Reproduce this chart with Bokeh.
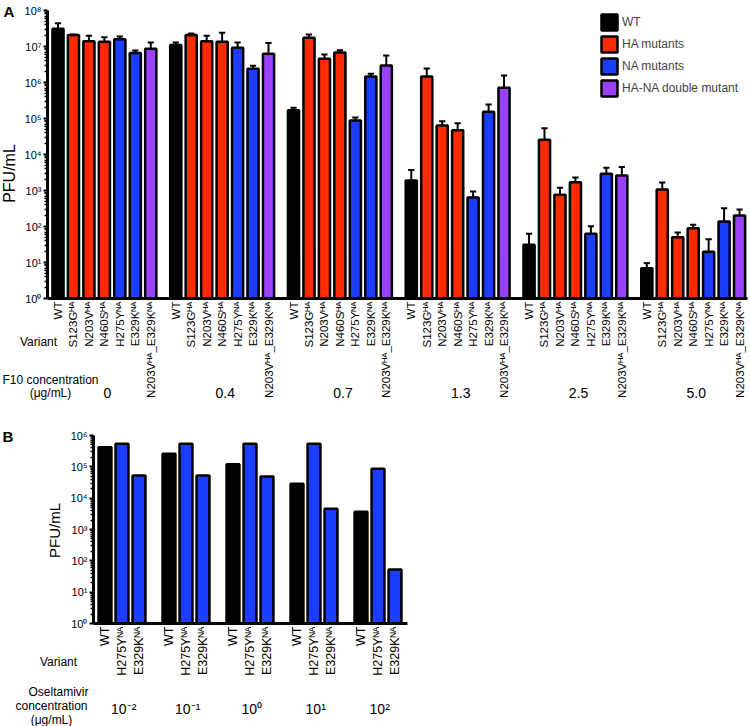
import math
from bokeh.plotting import figure
from bokeh.models import Range1d, FixedTicker, Label, Legend, LegendItem, ColumnDataSource
from bokeh.layouts import column
from bokeh.embed import file_html
from bokeh.resources import INLINE

FONT = "Liberation Sans"

# ---------------- Panel A data ----------------
f10_conc = ["0", "0.4", "0.7", "1.3", "2.5", "5.0"]
variants_a = ["WT", "S123Gᴴᴬ", "N203Vᴴᴬ", "N460Sᴴᴬ", "H275Yᴺᴬ", "E329Kᴺᴬ", "N203Vᴴᴬ_E329Kᴺᴬ"]
variant_type_a = ["WT", "HA", "HA", "HA", "NA", "NA", "HANA"]

# mean PFU/mL per F10 concentration (order of variants_a)
pfu_f10_0 = [3.1e7, 2.1e7, 1.4e7, 1.35e7, 1.6e7, 6.6e6, 8.7e6]
pfu_f10_04 = [1.1e7, 2.1e7, 1.4e7, 1.35e7, 9.3e6, 2.4e6, 6.3e6]
pfu_f10_07 = [1.7e5, 1.74e7, 4.55e6, 6.8e6, 8.8e4, 1.47e6, 2.95e6]
pfu_f10_13 = [1.9e3, 1.47e6, 6.4e4, 4.7e4, 640, 1.55e5, 7.1e5]
pfu_f10_25 = [31, 2.56e4, 760, 1.7e3, 63, 2.9e3, 2.6e3]
pfu_f10_50 = [6.9, 1.07e3, 50, 89, 20, 138, 203]

# upper end of error bars
top_f10_0 = [4.4e7, 2.15e7, 2.0e7, 1.8e7, 1.9e7, 7.7e6, 1.3e7]
top_f10_04 = [1.3e7, 2.3e7, 2.0e7, 2.4e7, 1.3e7, 2.9e6, 1.26e7]
top_f10_07 = [2.0e5, 2.15e7, 6.0e6, 7.9e6, 1.07e5, 1.74e6, 5.6e6]
top_f10_13 = [3.7e3, 2.45e6, 8.4e4, 7.4e4, 940, 2.45e5, 1.56e6]
top_f10_25 = [63, 5.4e4, 1.2e3, 2.3e3, 102, 4.3e3, 4.5e3]
top_f10_50 = [9.6, 1.66e3, 68, 111, 44, 322, 295]

pfu_a = [pfu_f10_0, pfu_f10_04, pfu_f10_07, pfu_f10_13, pfu_f10_25, pfu_f10_50]
top_a = [top_f10_0, top_f10_04, top_f10_07, top_f10_13, top_f10_25, top_f10_50]

# ---------------- Panel B data ----------------
osel_conc = ["10⁻²", "10⁻¹", "10⁰", "10¹", "10²"]
variants_b = ["WT", "H275Yᴺᴬ", "E329Kᴺᴬ"]
variant_type_b = ["WT", "NA", "NA"]
pfu_wt_b = [4.2e5, 2.6e5, 1.2e5, 2.9e4, 3.7e3]
pfu_h275y_b = [5.5e5, 5.5e5, 5.5e5, 5.5e5, 8.7e4]
pfu_e329k_b = [5.3e4, 5.3e4, 4.9e4, 4.6e3, 53]
pfu_b = [pfu_wt_b, pfu_h275y_b, pfu_e329k_b]

legend_names = {"WT": "WT", "HA": "HA mutants", "NA": "NA mutants", "HANA": "HA-NA double mutant"}
colors = {"WT": "#000000", "HA": "#FF2A00", "NA": "#1A3DFF", "HANA": "#9A40FF"}

sup = {"0": "⁰", "1": "¹", "2": "²", "3": "³", "4": "⁴", "5": "⁵", "6": "⁶", "7": "⁷", "8": "⁸", "9": "⁹"}


def make_fig(w, h, xr, yr):
    p = figure(width=w, height=h, y_axis_type="log", x_range=Range1d(*xr), y_range=Range1d(*yr),
               output_backend="svg", toolbar_location=None, frame_align=False, min_border=0)
    p.title.visible = False
    p.xgrid.visible = False
    p.ygrid.visible = False
    p.outline_line_color = None
    p.background_fill_color = "white"
    return p


def style_axes(p, max_dec, x_axis_at, x_bounds, tick_font):
    majors = [10 ** k for k in range(0, max_dec + 1)]
    minors = [m * 10 ** k for k in range(0, max_dec) for m in range(2, 10)]
    p.yaxis.ticker = FixedTicker(ticks=majors, minor_ticks=minors)
    p.yaxis.major_label_overrides = {10 ** k: "10" + sup[str(k)] for k in range(0, max_dec + 1)}
    p.yaxis.fixed_location = x_axis_at
    p.yaxis.bounds = (1, 10 ** max_dec)
    p.xaxis.fixed_location = 1
    p.xaxis.bounds = x_bounds
    for ax in (p.xaxis[0], p.yaxis[0]):
        ax.axis_line_width = 3
        ax.axis_line_color = "black"
        ax.major_label_text_font = FONT
        ax.major_label_text_color = "black"
    p.yaxis.major_tick_line_width = 2
    p.yaxis.major_tick_out = 4
    p.yaxis.major_tick_in = 0
    p.yaxis.minor_tick_line_width = 1.5
    p.yaxis.minor_tick_out = 3
    p.yaxis.minor_tick_in = 0
    p.yaxis.major_label_standoff = 2
    p.yaxis.major_label_text_font_size = "11px"
    p.xaxis.major_tick_line_color = None
    p.xaxis.minor_tick_line_color = None
    p.xaxis.major_tick_out = 0
    p.xaxis.major_tick_in = 0
    p.xaxis.major_label_orientation = math.pi / 2
    p.xaxis.major_label_standoff = 3
    p.xaxis.major_label_text_font_size = tick_font


def add_label(p, text, x, y, size="12px", angle=0, align="center", baseline="middle", bold=False):
    p.add_layout(Label(x=x, y=y, text=text, angle=angle,
                       text_font=FONT, text_font_size=size, text_align=align,
                       text_baseline=baseline, text_color="black",
                       text_font_style="bold" if bold else "normal"))


# ================= Panel A =================
W_A, H_A = 750, 410
slot_a = 15.46                     # px per bar slot
dec_a = 36.0                       # px per decade
first_bar_a, base_a = 57.5, 298    # pixel x of first bar, pixel y of 10^0
stride_a = 6 + 25 / slot_a         # group stride in slot units


def ax_(px):
    return (px - first_bar_a) / slot_a


def ay_(py):
    return 10 ** ((base_a - py) / dec_a)


pa = make_fig(W_A, H_A, (ax_(0), ax_(W_A)), (ay_(H_A), ay_(0)))
style_axes(pa, 8, ax_(47), (ax_(47), ax_(747)), "11.5px")

renderers_a = {}
for t in ["WT", "HA", "NA", "HANA"]:
    xs, tops = [], []
    for g in range(len(f10_conc)):
        for i, vt in enumerate(variant_type_a):
            if vt == t:
                xs.append(round(g * stride_a + i, 4))
                tops.append(pfu_a[g][i])
    src = ColumnDataSource(dict(x=xs, top=tops))
    renderers_a[t] = pa.vbar(x="x", top="top", bottom=1, width=0.72, source=src,
                             fill_color=colors[t], line_color="black", line_width=2.5)

xs_all, lab_all = [], []
cap_x0, cap_x1, cap_y, err_x, err_y0, err_y1 = [], [], [], [], [], []
for g in range(len(f10_conc)):
    for i in range(len(variants_a)):
        x = round(g * stride_a + i, 4)
        xs_all.append(x)
        lab_all.append(variants_a[i])
        err_x.append(x)
        err_y0.append(pfu_a[g][i])
        err_y1.append(top_a[g][i])
        cap_x0.append(x - 0.2)
        cap_x1.append(x + 0.2)
        cap_y.append(top_a[g][i])

pa.segment(x0=err_x, y0=err_y0, x1=err_x, y1=err_y1, line_color="black", line_width=2)
pa.segment(x0=cap_x0, y0=cap_y, x1=cap_x1, y1=cap_y, line_color="black", line_width=2)

pa.xaxis.ticker = FixedTicker(ticks=xs_all)
pa.xaxis.major_label_overrides = {x: l for x, l in zip(xs_all, lab_all)}

legend = Legend(items=[LegendItem(label=legend_names[t], renderers=[renderers_a[t]])
                       for t in ["WT", "HA", "NA", "HANA"]],
                location=(599, H_A - 12 - 86), glyph_width=20, glyph_height=20, label_height=20,
                label_width=118, label_standoff=3, spacing=2, padding=0, margin=0,
                border_line_color=None, background_fill_alpha=0,
                label_text_font=FONT, label_text_font_size="12px")
pa.add_layout(legend, "center")

add_label(pa, "A", ax_(3), ay_(2), size="15px", align="left", baseline="top", bold=True)
add_label(pa, "PFU/mL", ax_(9), ay_(173), size="16px", angle=math.pi / 2)
add_label(pa, "Variant", ax_(38), ay_(341), size="12px")
add_label(pa, "F10 concentration", ax_(50), ay_(379), size="12px")
add_label(pa, "(μg/mL)", ax_(50), ay_(392), size="12px")
for g, c in enumerate(f10_conc):
    add_label(pa, c, g * stride_a + 3 + 0.2, ay_(392), size="14px")

# ================= Panel B =================
W_B, H_B, TOP_B = 420, 316, 410
slot_b = 17.0
dec_b = 188 / 6
first_bar_b, base_b = 104.5, 623
stride_b = 2 + 30 / slot_b


def bx_(px):
    return (px - first_bar_b) / slot_b


def by_(py):
    return 10 ** ((base_b - py) / dec_b)


pb = make_fig(W_B, H_B, (bx_(0), bx_(W_B)), (by_(TOP_B + H_B), by_(TOP_B)))
style_axes(pb, 6, bx_(93), (bx_(93), bx_(407)), "12.5px")

for t in ["WT", "NA"]:
    xs, tops = [], []
    for g in range(len(osel_conc)):
        for i, vt in enumerate(variant_type_b):
            if vt == t:
                xs.append(round(g * stride_b + i, 4))
                tops.append(pfu_b[i][g])
    pb.vbar(x=xs, top=tops, bottom=1, width=0.76, fill_color=colors[t],
            line_color="black", line_width=2.5)

xs_b, lab_b = [], []
for g in range(len(osel_conc)):
    for i in range(len(variants_b)):
        xs_b.append(round(g * stride_b + i, 4))
        lab_b.append(variants_b[i])
pb.xaxis.ticker = FixedTicker(ticks=xs_b)
pb.xaxis.major_label_overrides = {x: l for x, l in zip(xs_b, lab_b)}

add_label(pb, "B", bx_(2), by_(427), size="15px", align="left", baseline="top", bold=True)
add_label(pb, "PFU/mL", bx_(54), by_(530), size="15px", angle=math.pi / 2)
add_label(pb, "Variant", bx_(58), by_(661), size="12px")
add_label(pb, "Oseltamivir", bx_(58), by_(691), size="12px")
add_label(pb, "concentration", bx_(51), by_(705), size="12px")
add_label(pb, "(μg/mL)", bx_(51), by_(719), size="12px")
for g, c in enumerate(osel_conc):
    add_label(pb, c, g * stride_b + 1 + 0.1, by_(708), size="14px")

layout = column(pa, pb, spacing=0)
open("out.html", "w").write(file_html(layout, INLINE))
